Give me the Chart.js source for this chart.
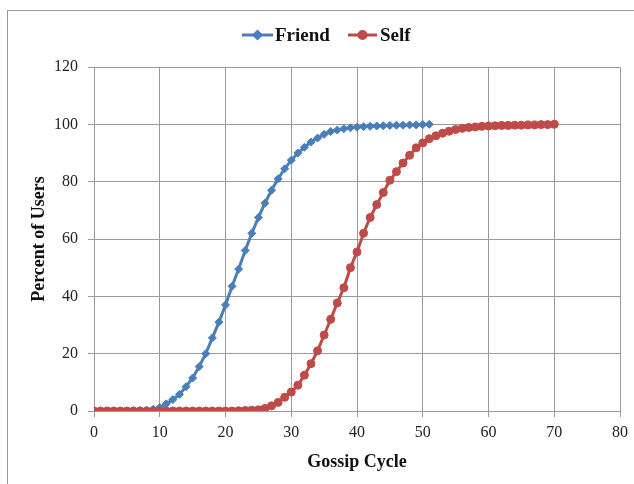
<!DOCTYPE html>
<html>
<head>
<meta charset="utf-8">
<script src="https://cdn.jsdelivr.net/npm/chart.js@4"></script>
<style>
  html, body { margin: 0; padding: 0; background: #fff; overflow: hidden; }
  #wrap { position: relative; width: 634px; height: 484px; }
  #frame { position: absolute; left: 7px; top: 10px; width: 700px; height: 700px; border: 1px solid #9a9a9a; box-sizing: border-box; }
  canvas { position: absolute; left: 0; top: 0; }
</style>
</head>
<body>
<div id="wrap">
  <div id="frame"></div>
  <canvas id="gossipChart" width="634" height="484"></canvas>
</div>
<script>
const friendCycle = [0,1,2,3,4,5,6,7,8,9,10,11,12,13,14,15,16,17,18,19,20,21,22,23,24,25,
  26,27,28,29,30,31,32,33,34,35,36,37,38,39,40,41,42,43,44,45,46,47,48,49,50,51];
const friendPct = [0,0,0,0,0,0,0.1,0.2,0.3,0.6,1.2,2.5,4,5.8,8.5,11.5,15.5,20,25.5,31,37,43.5,
  49.5,56,62,67.5,72.5,77,81,84.5,87.5,90,92,93.8,95.2,96.5,97.5,98,98.5,98.8,99,99.2,99.3,
  99.4,99.5,99.6,99.7,99.7,99.8,99.8,99.9,100];

const selfCycle = [0,1,2,3,4,5,6,7,8,9,10,11,12,13,14,15,16,17,18,19,20,21,22,23,24,25,26,27,
  28,29,30,31,32,33,34,35,36,37,38,39,40,41,42,43,44,45,46,47,48,49,50,51,52,53,54,55,56,57,
  58,59,60,61,62,63,64,65,66,67,68,69,70];
const selfPct = [0,0,0,0,0,0,0,0,0,0,0,0,0,0,0,0,0,0,0,0,0,0,0.1,0.2,0.3,0.4,0.9,1.8,3,4.8,6.6,
  9,12.5,16.5,21,26.5,32,37.7,43,50,55.5,62,67.5,72,76.2,80.5,83.5,86.5,89.2,91.8,93.5,95,96,
  96.9,97.6,98.2,98.6,98.9,99.1,99.3,99.4,99.5,99.6,99.6,99.7,99.7,99.8,99.8,99.9,99.9,100];

const xTicks = [0,10,20,30,40,50,60,70,80];
const yTicks = [0,20,40,60,80,100,120];

const blue = "#4a7ebb";
const red = "#be4b48";
const gridColor = "#9a9a9a";

function toPoints(xs, ys) {
  return xs.map((x, i) => ({ x: x, y: ys[i] }));
}

// legend like Excel: short line with a marker, then bold label
const excelLegend = {
  id: "excelLegend",
  afterDraw(chart) {
    const ctx = chart.ctx;
    const items = [
      { label: "Friend", color: blue, style: "rectRot", x0: 242, x1: 273, tx: 275 },
      { label: "Self", color: red, style: "circle", x0: 348, x1: 377, tx: 380 },
    ];
    const y = 35;
    ctx.save();
    items.forEach((it) => {
      ctx.strokeStyle = it.color;
      ctx.lineWidth = 3;
      ctx.beginPath();
      ctx.moveTo(it.x0, y);
      ctx.lineTo(it.x1, y);
      ctx.stroke();
      ctx.fillStyle = it.color;
      Chart.helpers.drawPoint(ctx, { pointStyle: it.style, radius: 3.5, borderWidth: 1 },
        (it.x0 + it.x1) / 2, y);
      ctx.fill();
      ctx.fillStyle = "#111";
      ctx.font = "bold 19px 'Liberation Serif', 'Times New Roman', serif";
      ctx.textAlign = "left";
      ctx.textBaseline = "middle";
      ctx.fillText(it.label, it.tx, y + 1);
    });
    ctx.restore();
  },
};

const ctx = document.getElementById("gossipChart").getContext("2d");
new Chart(ctx, {
  type: "line",
  data: {
    datasets: [
      {
        label: "Friend",
        data: toPoints(friendCycle, friendPct),
        borderColor: blue,
        backgroundColor: blue,
        borderWidth: 3,
        pointStyle: "rectRot",
        pointRadius: 4,
        pointBorderWidth: 1,
        order: 1,
      },
      {
        label: "Self",
        data: toPoints(selfCycle, selfPct),
        borderColor: red,
        backgroundColor: red,
        borderWidth: 3,
        pointStyle: "circle",
        pointRadius: 4,
        pointBorderWidth: 1,
        order: 0,
      },
    ],
  },
  options: {
    responsive: false,
    animation: false,
    layout: { padding: { left: 0, right: 13, top: 67, bottom: 0 } },
    plugins: {
      legend: { display: false },
      tooltip: { enabled: false },
    },
    scales: {
      x: {
        type: "linear",
        min: 0,
        max: 80,
        afterBuildTicks: (scale) => { scale.ticks = xTicks.map((v) => ({ value: v })); },
        afterFit: (scale) => { scale.height = 73; },
        grid: { color: gridColor, tickLength: 6, tickColor: gridColor },
        border: { color: gridColor },
        ticks: {
          color: "#222",
          padding: 6,
          maxRotation: 0,
          font: { family: "'Liberation Serif', 'Times New Roman', serif", size: 16 },
        },
        title: {
          display: true,
          text: "Gossip Cycle",
          color: "#111",
          padding: { top: 0, bottom: 11 },
          font: { family: "'Liberation Serif', 'Times New Roman', serif", size: 18, weight: "bold" },
        },
      },
      y: {
        min: 0,
        max: 120,
        afterBuildTicks: (scale) => { scale.ticks = yTicks.map((v) => ({ value: v })); },
        afterFit: (scale) => { scale.width = 94; },
        grid: { color: gridColor, tickLength: 6, tickColor: gridColor },
        border: { color: gridColor },
        ticks: {
          color: "#222",
          padding: 10,
          font: { family: "'Liberation Serif', 'Times New Roman', serif", size: 16 },
        },
        title: {
          display: true,
          text: "Percent of Users",
          color: "#111",
          padding: { top: 29, bottom: 0 },
          font: { family: "'Liberation Serif', 'Times New Roman', serif", size: 18, weight: "bold" },
        },
      },
    },
  },
  plugins: [excelLegend],
});
</script>
</body>
</html>
